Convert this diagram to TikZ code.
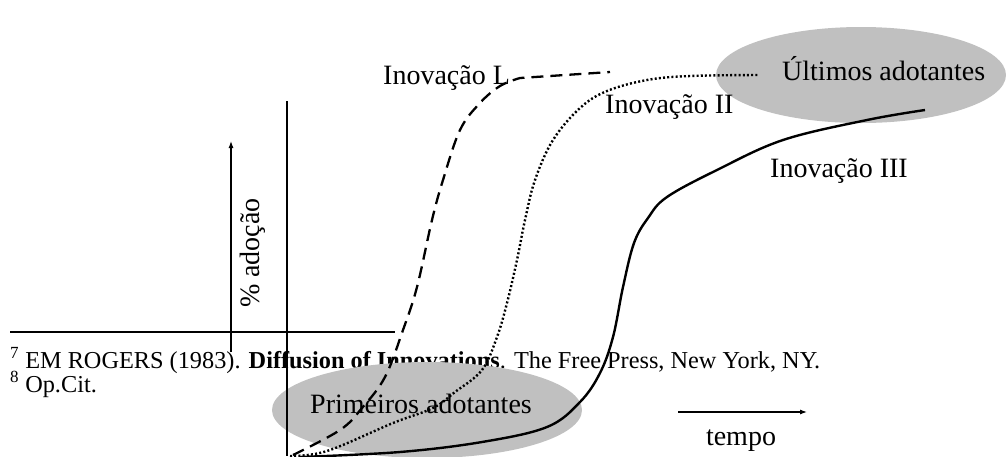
\documentclass[tikz,border=0pt]{standalone}
\usepackage{fontspec}
\setmainfont{Liberation Serif}
\usetikzlibrary{arrows.meta,positioning,shapes.geometric}
\definecolor{blobgray}{RGB}{192,192,192}
\tikzset{>={Latex[length=7pt,width=5pt]}}

\begin{document}
\begin{tikzpicture}[x=1pt, y=-1pt, every node/.style={inner sep=0pt},
		lbl/.style={font=\fontsize{28}{32}\selectfont, anchor=base west},
		note/.style={font=\fontsize{24.3}{28}\selectfont, anchor=base west},
		thin/.style={line width=1.1pt},
		blob/.style={ellipse, fill=blobgray},
		inovI/.style={line width=2.3pt, dash pattern=on 12pt off 7pt},
		inovII/.style={line width=2.4pt, dash pattern=on 2pt off 2.2pt},
		inovIII/.style={line width=2.4pt}]
		\useasboundingbox (0,0) rectangle (1006,456);
		
		% footnotes under the picture
		\draw[line width=2pt] (10,332) -- (395,332);
		\node[note] (fn7) at (10,368) {\textsuperscript{7} EM ROGERS (1983). \textbf{Diffusion of Innovations}. The Free Press, New York, NY.};
		\node[note] (fn8) at (10,392) {\textsuperscript{8} Op.Cit.};
		
		\node[blob, minimum width=310, minimum height=96] (early) at (427,410) {};
		\node[blob, minimum width=290, minimum height=96] (late)  at (861,75) {};
		\node[lbl] (earlyL) at (310,413) {Primeiros adotantes};
		\node[lbl] (lateL)  at (782,80)  {Últimos adotantes};
		
		\node[lbl] (inI)   at (383,84)  {Inovação L};
		\node[lbl] (inII)  at (605,113) {Inovação II};
		\node[lbl] (inIII) at (770,177) {Inovação III};
		
		% axes
		\coordinate (ybot) at (231,352);
		\coordinate (ytop) at (231,141);
		\draw[thin, ->] (ybot) -- (ytop);
		\node[font=\fontsize{28}{32}\selectfont, rotate=90] (ylab) at (253,253) {\% adoção};
		\draw[thin] (287,101) -- (287,456);
		\coordinate (tleft) at (678,412);
		\coordinate (tright) at (807,412);
		\draw[thin, ->] (tleft) -- (tright);
		\node[font=\fontsize{28}{32}\selectfont, anchor=base] (tlab) at (741,445) {tempo};
		
		% the three curves
		\draw[inovI] plot[smooth, tension=0.6] coordinates {(293,455) (340,430) (362,408) (385,377) (403,330) (417,287) (432,220) (443,180) (460,130) (480,103) (500,86) (520,78)} -- (610,72);
		\draw[inovII] plot[smooth, tension=0.6] coordinates {(290,456) (327,451) (393,423) (433,408) (455,392) (482,370) (497,337) (507,303) (517,260) (525,220) (535,180) (553,140) (580,108) (607,91) (647,80) (690,76) (758,75)};
		\draw[inovIII] plot[smooth, tension=0.6] coordinates {(300,457) (400,452) (482,442) (547,427) (580,402) (600,373) (613,337) (623,287) (634,243) (648,218) (667,197) (717,170) (783,140) (867,120) (925,110)};
	\end{tikzpicture}
\end{document}
